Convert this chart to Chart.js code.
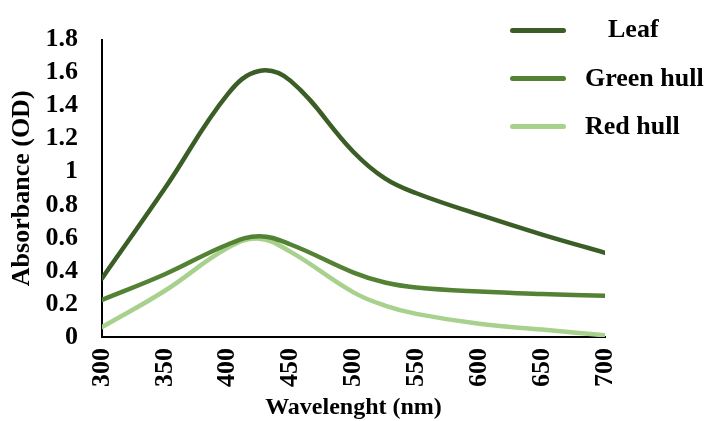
<!DOCTYPE html>
<html>
<head>
<meta charset="utf-8">
<script src="https://cdn.jsdelivr.net/npm/chart.js@4"></script>
<style>
    body { margin: 0; background: #fff; }
    #wrap { position: relative; width: 710px; height: 421px; }
    .legend-item { position: absolute; font: bold 26px 'Liberation Serif', serif; color: #000; white-space: nowrap; }
    .legend-line { position: absolute; height: 5px; border-radius: 3px; }
</style>
</head>
<body>
<div id="wrap">
    <canvas id="chart" width="710" height="421"></canvas>
</div>
<script>
// wavelengths (nm) and absorbance
const wavelengths = [300, 350, 400, 425, 450, 500, 525, 550, 600, 650, 700];
const leaf = [0.355, 0.90, 1.47, 1.61, 1.55, 1.12, 0.96, 0.87, 0.74, 0.62, 0.51];
const greenHull = [0.225, 0.38, 0.56, 0.61, 0.56, 0.39, 0.33, 0.30, 0.275, 0.26, 0.25];
const redHull = [0.06, 0.28, 0.54, 0.595, 0.515, 0.27, 0.19, 0.14, 0.08, 0.045, 0.01];

const seriesNames = ['Leaf', 'Green hull', 'Red hull'];
const seriesColors = ['#3b5e26', '#548235', '#a9d18e'];

const xTicks = [300, 350, 400, 450, 500, 550, 600, 650, 700];
const yTicks = [0, 0.2, 0.4, 0.6, 0.8, 1, 1.2, 1.4, 1.6, 1.8];

const toPoints = (values) => values.map((v, i) => ({ x: wavelengths[i], y: v }));

const font = (size) => ({ family: "'Liberation Serif', serif", weight: 'bold', size: size });

const chart = new Chart(document.getElementById('chart'), {
    type: 'line',
    data: {
        datasets: [leaf, greenHull, redHull].map((values, i) => ({
            label: seriesNames[i],
            data: toPoints(values),
            borderColor: seriesColors[i],
            borderWidth: 4.5,
            pointRadius: 0,
            tension: 0.4,
            borderCapStyle: 'round'
        }))
    },
    options: {
        responsive: false,
        animation: false,
        layout: { padding: { top: 27, right: 105, bottom: 0, left: 0 } },
        plugins: { legend: { display: false }, tooltip: { enabled: false } },
        scales: {
            x: {
                type: 'linear',
                min: 300,
                max: 700,
                afterBuildTicks: (scale) => { scale.ticks = xTicks.map(v => ({ value: v })); },
                ticks: { font: font(26), color: '#000', minRotation: 90, maxRotation: 90, padding: 11, autoSkip: false },
                grid: { display: false, drawTicks: false },
                border: { display: true, color: '#000', width: 2 },
                title: { display: true, text: 'Wavelenght (nm)', font: { ...font(24), lineHeight: 1 }, color: '#000', padding: { top: 0, bottom: 1 } },
                afterFit: (scale) => { scale.height = 84; }
            },
            y: {
                min: 0,
                max: 1.8,
                afterBuildTicks: (scale) => { scale.ticks = yTicks.map(v => ({ value: v })); },
                ticks: {
                    font: font(26), color: '#000', padding: 24, autoSkip: false,
                    callback: (v) => String(Math.round(v * 10) / 10)
                },
                grid: { display: false, drawTicks: false },
                border: { display: true, color: '#000', width: 2 },
                title: { display: true, text: 'Absorbance (OD)', font: { ...font(26), lineHeight: 1.2 }, color: '#000', padding: { top: 7, bottom: 0 } },
                afterFit: (scale) => { scale.width = 102; }
            }
        }
    }
});

// legend drawn on top of the plot, as in the picture
const wrap = document.getElementById('wrap');
const legendSpots = [
    { lineY: 28, textX: 608, textY: 14 },
    { lineY: 76, textX: 585, textY: 63 },
    { lineY: 124, textX: 585, textY: 111 }
];
seriesNames.forEach((name, i) => {
    const spot = legendSpots[i];
    const line = document.createElement('div');
    line.className = 'legend-line';
    line.style.left = '510px';
    line.style.width = '56px';
    line.style.top = spot.lineY + 'px';
    line.style.background = seriesColors[i];
    wrap.appendChild(line);

    const label = document.createElement('div');
    label.className = 'legend-item';
    label.style.left = spot.textX + 'px';
    label.style.top = spot.textY + 'px';
    label.textContent = name;
    wrap.appendChild(label);
});
</script>
</body>
</html>
